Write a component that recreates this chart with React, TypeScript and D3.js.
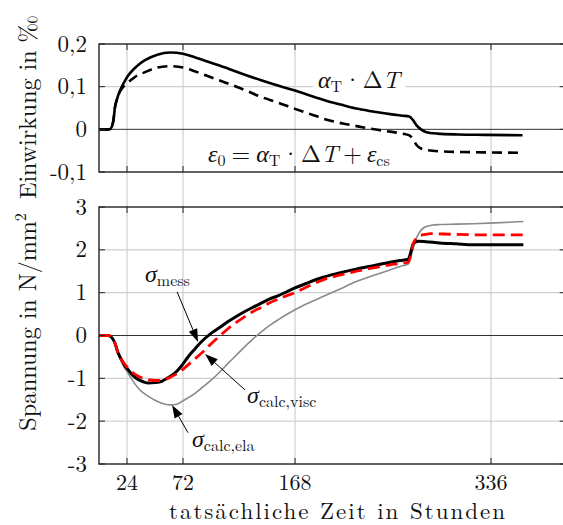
import React from "react";
import * as d3 from "d3";

// ---------- data ----------
const xTicks = [24, 72, 168, 336];
const topTicks = [0.2, 0.1, 0, -0.1];
const topTickLabels = ["0,2", "0,1", "0", "-0,1"];
const botTicks = [3, 2, 1, 0, -1, -2, -3];
const botTickLabels = ["3", "2", "1", "0", "-1", "-2", "-3"];

// Einwirkung: alpha_T * dT (solid)
const alphaH = [0, 9, 11, 12.5, 13.7, 15.1, 18, 20.9, 25, 32, 39.4, 50, 61, 72, 82, 96, 111, 125, 139, 154, 168, 182, 196, 210, 222, 236, 251, 260, 266, 269, 272, 276, 280, 290, 308, 330, 363];
const alphaV = [0, 0, 0.006, 0.024, 0.052, 0.068, 0.091, 0.107, 0.126, 0.147, 0.162, 0.175, 0.18, 0.177, 0.169, 0.156, 0.142, 0.128, 0.115, 0.102, 0.091, 0.078, 0.066, 0.056, 0.048, 0.041, 0.035, 0.032, 0.03, 0.022, 0.01, 0.0, -0.006, -0.01, -0.012, -0.013, -0.014];
// eps_0 (dashed)
const epsH = [0, 9, 11, 12.5, 13.7, 15.1, 18, 20, 22, 25, 32, 39.4, 50, 61, 72, 82, 96, 111, 125, 139, 154, 168, 182, 196, 210, 222, 236, 251, 260, 266, 269, 272, 276, 282, 295, 308, 330, 363];
const epsV = [0, 0, 0.006, 0.024, 0.052, 0.068, 0.089, 0.097, 0.103, 0.11, 0.125, 0.134, 0.145, 0.148, 0.145, 0.136, 0.122, 0.107, 0.092, 0.076, 0.062, 0.048, 0.035, 0.022, 0.013, 0.007, 0.0, -0.006, -0.01, -0.014, -0.022, -0.036, -0.045, -0.049, -0.052, -0.053, -0.054, -0.055];

// Spannung: sigma_mess (black)
const messH = [0, 8, 11, 13.7, 16, 19.4, 22, 25, 29, 33.7, 38, 42.3, 48, 53.7, 59, 65, 71, 76.6, 82, 88, 96.6, 104, 111, 118, 125, 132, 139.4, 146, 153.7, 160, 168, 178, 192, 206, 220.6, 235, 249.4, 258, 265, 267, 269, 271, 273.7, 280, 292, 306, 320.8, 340, 363.7];
const messV = [0, 0, -0.05, -0.18, -0.38, -0.57, -0.7, -0.8, -0.93, -1.03, -1.08, -1.11, -1.1, -1.07, -0.99, -0.88, -0.7, -0.49, -0.32, -0.14, 0.06, 0.2, 0.33, 0.45, 0.56, 0.66, 0.76, 0.85, 0.93, 1.01, 1.11, 1.22, 1.36, 1.46, 1.55, 1.63, 1.71, 1.75, 1.78, 1.92, 2.12, 2.18, 2.2, 2.19, 2.16, 2.14, 2.12, 2.12, 2.12];
// sigma_calc,visc (red dashed)
const viscH = [0, 8, 11, 13.7, 16, 19.4, 22, 25, 29, 33.7, 38, 42.3, 48, 53.7, 59, 65, 71, 76.6, 82, 88, 96.6, 104, 111, 118, 125, 132, 139.4, 146, 153.7, 160, 168, 178, 192, 206, 220.6, 235, 249.4, 258, 265, 267, 269, 272, 275, 280, 284, 295, 306.6, 330, 363.7];
const viscV = [0, 0, -0.05, -0.18, -0.38, -0.57, -0.67, -0.76, -0.87, -0.95, -1.0, -1.03, -1.05, -1.05, -1.0, -0.92, -0.81, -0.68, -0.55, -0.41, -0.18, 0.0, 0.17, 0.31, 0.44, 0.56, 0.66, 0.76, 0.85, 0.92, 1.0, 1.13, 1.3, 1.41, 1.5, 1.58, 1.65, 1.68, 1.71, 1.85, 2.12, 2.27, 2.33, 2.36, 2.38, 2.37, 2.36, 2.35, 2.35];
// sigma_calc,ela (grey)
const elaH = [0, 8, 11, 13.7, 16, 19.4, 22, 25, 29, 33.7, 38, 42.3, 48, 53.7, 61, 66, 70.9, 76, 82.3, 89, 96.6, 104, 111, 118, 125, 132, 139.4, 146, 153.7, 168, 178, 192, 206, 220.6, 235, 249.4, 258, 265, 267, 269, 271, 274, 278, 284, 292, 306, 320.8, 340, 363.7];
const elaV = [0, 0, -0.05, -0.18, -0.4, -0.62, -0.76, -0.88, -1.06, -1.23, -1.34, -1.42, -1.51, -1.58, -1.62, -1.61, -1.54, -1.46, -1.35, -1.2, -1.03, -0.84, -0.64, -0.45, -0.26, -0.08, 0.09, 0.23, 0.37, 0.6, 0.74, 0.91, 1.08, 1.26, 1.4, 1.53, 1.61, 1.67, 1.8, 2.0, 2.2, 2.38, 2.51, 2.57, 2.59, 2.6, 2.61, 2.63, 2.66];

const FONT = "Latin Modern Roman";
const GREEK = "Liberation Serif";

const x = d3.scaleLinear().domain([0, 400]).range([99, 565.7]);
const yTop = d3.scaleLinear().domain([-0.1, 0.2]).range([172, 44]);
const yBot = d3.scaleLinear().domain([-3, 3]).range([464, 207]);

function pts(h: number[], v: number[]): [number, number][] {
  return h.map((hh, i) => [hh, v[i]]);
}

const lineTop = d3.line<[number, number]>().x((d) => x(d[0])).y((d) => yTop(d[1])).curve(d3.curveMonotoneX);
const lineBot = d3.line<[number, number]>().x((d) => x(d[0])).y((d) => yBot(d[1])).curve(d3.curveMonotoneX);

function Arrow({ x1, y1, x2, y2 }: { x1: number; y1: number; x2: number; y2: number }) {
  const ang = Math.atan2(y2 - y1, x2 - x1);
  const L = 13, W = 4.5;
  const bx = x2 - L * Math.cos(ang), by = y2 - L * Math.sin(ang);
  const px = -Math.sin(ang) * W, py = Math.cos(ang) * W;
  return (
    <g>
      <line x1={x1} y1={y1} x2={bx} y2={by} stroke="#000" strokeWidth={1} />
      <path d={`M${x2},${y2}L${bx + px},${by + py}L${bx - px},${by - py}Z`} fill="#000" />
    </g>
  );
}

const gk: React.CSSProperties = { fontFamily: GREEK, fontStyle: "italic" };
const it: React.CSSProperties = { fontFamily: FONT, fontStyle: "italic" };

export default function App() {
  const L = 99, R = 565.7;
  const subFs = 16;
  const ts: React.CSSProperties = { fontFamily: FONT };
  return (
    <svg width={563} height={525} style={{ position: "absolute", left: 0, top: 0, background: "#fff" }}>
      <rect x={0} y={0} width={563} height={525} fill="#fff" />
      {/* vertical grid through both panels */}
      {xTicks.map((t) => (
        <line key={"vg" + t} x1={x(t)} x2={x(t)} y1={44} y2={464} stroke="#cfcfcf" strokeWidth={1.2} />
      ))}
      {/* top panel horizontal grid */}
      <line x1={L} x2={R} y1={yTop(0.1)} y2={yTop(0.1)} stroke="#cfcfcf" strokeWidth={1.2} />
      <line x1={L} x2={R} y1={yTop(0)} y2={yTop(0)} stroke="#333" strokeWidth={1} />
      {/* bottom panel horizontal grid */}
      {[2, 1, -1, -2].map((t) => (
        <line key={"hg" + t} x1={L} x2={R} y1={yBot(t)} y2={yBot(t)} stroke="#cfcfcf" strokeWidth={1.2} />
      ))}
      <line x1={L} x2={R} y1={yBot(0)} y2={yBot(0)} stroke="#333" strokeWidth={1} />

      {/* top label with white background */}
      <rect x={x(183.5)} y={yTop(0.14)} width={92} height={26} fill="#fff" />

      {/* curves top */}
      <path d={lineTop(pts(epsH, epsV)) || ""} fill="none" stroke="#000" strokeWidth={2.6} strokeDasharray="10,6" />
      <path d={lineTop(pts(alphaH, alphaV)) || ""} fill="none" stroke="#000" strokeWidth={2.6} />

      {/* curves bottom */}
      <path d={lineBot(pts(elaH, elaV)) || ""} fill="none" stroke="#8a8a8a" strokeWidth={1.6} />
      <path d={lineBot(pts(messH, messV)) || ""} fill="none" stroke="#000" strokeWidth={3} />
      <path d={lineBot(pts(viscH, viscV)) || ""} fill="none" stroke="#ff0000" strokeWidth={2.8} strokeDasharray="12,6" />

      {/* frames */}
      <rect x={L} y={44} width={R - L} height={128} fill="none" stroke="#222" strokeWidth={1.4} />
      <rect x={L} y={207} width={R - L} height={257} fill="none" stroke="#222" strokeWidth={1.4} />

      {/* ticks */}
      {topTicks.map((t) => (
        <g key={"tt" + t}>
          <line x1={L} x2={L + 6} y1={yTop(t)} y2={yTop(t)} stroke="#222" strokeWidth={1} />
          <line x1={R - 6} x2={R} y1={yTop(t)} y2={yTop(t)} stroke="#222" strokeWidth={1} />
        </g>
      ))}
      {botTicks.map((t) => (
        <g key={"bt" + t}>
          <line x1={L} x2={L + 6} y1={yBot(t)} y2={yBot(t)} stroke="#222" strokeWidth={1} />
          <line x1={R - 6} x2={R} y1={yBot(t)} y2={yBot(t)} stroke="#222" strokeWidth={1} />
        </g>
      ))}
      {xTicks.map((t) => (
        <g key={"xt" + t}>
          <line x1={x(t)} x2={x(t)} y1={44} y2={50} stroke="#222" strokeWidth={1} />
          <line x1={x(t)} x2={x(t)} y1={166} y2={172} stroke="#222" strokeWidth={1} />
          <line x1={x(t)} x2={x(t)} y1={207} y2={213} stroke="#222" strokeWidth={1} />
          <line x1={x(t)} x2={x(t)} y1={458} y2={464} stroke="#222" strokeWidth={1} />
        </g>
      ))}

      {/* tick labels */}
      {topTicks.map((t, i) => (
        <text key={"tl" + t} style={ts} x={87} y={yTop(t) + 7.5} textAnchor="end" fontSize={23} fill="#111">
          {topTickLabels[i]}
        </text>
      ))}
      {botTicks.map((t, i) => (
        <text key={"bl" + t} style={ts} x={87} y={yBot(t) + 7.5} textAnchor="end" fontSize={23} fill="#111">
          {botTickLabels[i]}
        </text>
      ))}
      {xTicks.map((t) => (
        <text key={"xl" + t} style={ts} x={x(t)} y={490} textAnchor="middle" fontSize={22} fill="#111">
          {t}
        </text>
      ))}

      {/* axis titles */}
      <text style={ts} x={337} y={519} textAnchor="middle" fontSize={23} fill="#111" textLength={336} lengthAdjust="spacing">
        tatsächliche Zeit in Stunden
      </text>
      <text style={ts} transform="translate(36,107) rotate(-90)" textAnchor="middle" fontSize={24} fill="#111">
        Einwirkung in ‰
      </text>
      <text style={ts} transform="translate(36,322) rotate(-90)" textAnchor="middle" fontSize={24} fill="#111">
        <tspan>Spannung in N/mm</tspan>
        <tspan fontSize={16} dy={-10}>2</tspan>
      </text>

      {/* top annotations */}
      <text style={ts} x={x(187.7)} y={yTop(0.098)} fontSize={24} fill="#111">
        <tspan style={gk}>α</tspan>
        <tspan fontSize={subFs} dy={4}>T</tspan>
        <tspan dy={-4} dx={1}>·</tspan>
        <tspan dx={1}>Δ</tspan>
        <tspan style={it}>T</tspan>
      </text>
      <text style={ts} x={x(93.4)} y={yTop(-0.0766)} fontSize={24} fill="#111">
        <tspan style={gk}>ε</tspan>
        <tspan fontSize={subFs} dy={4}>0</tspan>
        <tspan dy={-4} dx={6}>=</tspan>
        <tspan style={gk} dx={6}>α</tspan>
        <tspan fontSize={subFs} dy={4}>T</tspan>
        <tspan dy={-4} dx={1}>·</tspan>
        <tspan dx={1}>Δ</tspan>
        <tspan style={it}>T</tspan>
        <tspan dx={5}>+</tspan>
        <tspan style={gk} dx={5}>ε</tspan>
        <tspan fontSize={subFs} dy={4}>cs</tspan>
      </text>

      {/* bottom annotations */}
      <text style={ts} x={x(39.4)} y={yBot(1.255)} fontSize={24} fill="#111">
        <tspan style={gk}>σ</tspan>
        <tspan fontSize={subFs} dy={4}>mess</tspan>
      </text>
      <text style={ts} x={x(126.9)} y={yBot(-1.57)} fontSize={24} fill="#111">
        <tspan style={gk}>σ</tspan>
        <tspan fontSize={subFs} dy={4}>calc,visc</tspan>
      </text>
      <text style={ts} x={x(79.7)} y={yBot(-2.6)} fontSize={24} fill="#111">
        <tspan style={gk}>σ</tspan>
        <tspan fontSize={subFs} dy={4}>calc,ela</tspan>
      </text>
      <Arrow x1={x(66.9)} y1={yBot(1.02)} x2={x(84.9)} y2={yBot(-0.15)} />
      <Arrow x1={x(125.1)} y1={yBot(-1.27)} x2={x(90.9)} y2={yBot(-0.43)} />
      <Arrow x1={x(76.3)} y1={yBot(-2.27)} x2={x(62.6)} y2={yBot(-1.62)} />
    </svg>
  );
}
